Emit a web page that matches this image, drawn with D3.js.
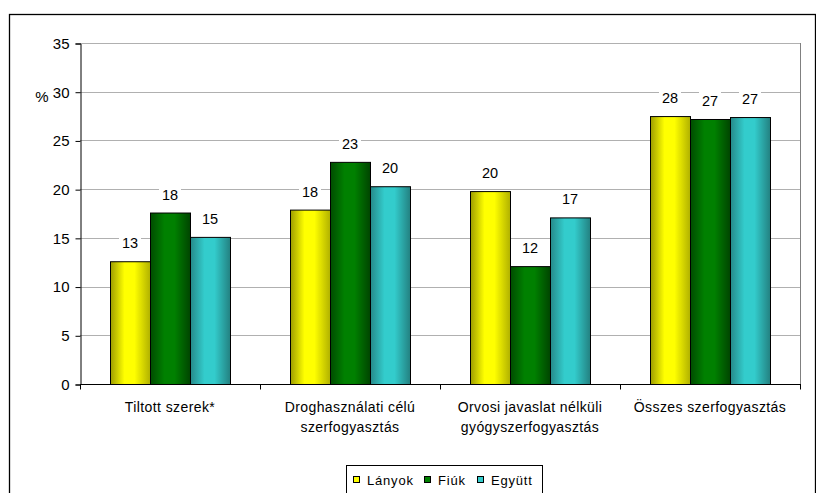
<!DOCTYPE html>
<html lang="hu">
<head>
<meta charset="UTF-8">
<title>Szerfogyasztás</title>
<script src="https://d3js.org/d3.v7.min.js"></script>
<style>
  body { margin: 0; background: #fff; }
  text { font-family: "Liberation Sans", Arial, sans-serif; fill: #000; }
</style>
</head>
<body>
<div id="chart"></div>
<script>
// data
var categories = [
  ["Tiltott szerek*"],
  ["Droghasználati célú", "szerfogyasztás"],
  ["Orvosi javaslat nélküli", "gyógyszerfogyasztás"],
  ["Összes szerfogyasztás"]
];
var series = ["Lányok", "Fiúk", "Együtt"];
var lanyok = [12.6, 17.9, 19.8, 27.5];
var fiuk   = [17.6, 22.8, 12.1, 27.2];
var egyutt = [15.1, 20.3, 17.1, 27.4];
var yTicks = [0, 5, 10, 15, 20, 25, 30, 35];

var values = [lanyok, fiuk, egyutt];
var colors = [
  ["#9e9e00", "#ffff00", "#ffff00", "#b0b000"],
  ["#004c00", "#008000", "#008000", "#004400"],
  ["#268a8a", "#33cccc", "#33cccc", "#238080"]
];

var W = 816, H = 493;
var plot = {left: 80, top: 43, right: 800, bottom: 384};

var svg = d3.select("#chart").append("svg")
  .attr("width", W).attr("height", H);

var defs = svg.append("defs");
colors.forEach(function(c, i) {
  var g = defs.append("linearGradient").attr("id", "grad" + i)
    .attr("x1", "0%").attr("x2", "100%").attr("y1", "0%").attr("y2", "0%");
  g.append("stop").attr("offset", "0%").attr("stop-color", c[0]);
  g.append("stop").attr("offset", "35%").attr("stop-color", c[1]);
  g.append("stop").attr("offset", "60%").attr("stop-color", c[2]);
  g.append("stop").attr("offset", "100%").attr("stop-color", c[3]);
});

// outer frame (cut off on the right and bottom)
svg.append("rect")
  .attr("x", 9.5).attr("y", 14.5).attr("width", 806).attr("height", 500)
  .attr("fill", "none").attr("stroke", "#000").attr("stroke-width", 1.3);

var y = d3.scaleLinear().domain([0, 35]).range([plot.bottom, plot.top]);
var x0 = d3.scaleBand().domain(d3.range(categories.length))
  .range([plot.left, plot.right]).paddingInner(0).paddingOuter(0);
var x1 = d3.scaleBand().domain(d3.range(series.length))
  .range([30, x0.bandwidth() - 30]);

// gridlines
svg.append("g").selectAll("line")
  .data(yTicks.filter(function(d) { return d > 0; }))
  .join("line")
  .attr("x1", plot.left).attr("x2", plot.right)
  .attr("y1", function(d) { return Math.round(y(d)) + 0.5; })
  .attr("y2", function(d) { return Math.round(y(d)) + 0.5; })
  .attr("stroke", "#b0b0b0").attr("stroke-width", 1);

// plot area right border
svg.append("line")
  .attr("x1", plot.right + 0.5).attr("x2", plot.right + 0.5)
  .attr("y1", plot.top).attr("y2", plot.bottom)
  .attr("stroke", "#808080");

// y axis
var yAxis = svg.append("g")
  .attr("transform", "translate(" + (plot.left + 0.5) + ",0.5)")
  .call(d3.axisLeft(y).tickValues(yTicks).tickSize(5).tickPadding(6));
yAxis.attr("font-size", null).attr("font-family", null);
yAxis.select(".domain").attr("stroke", "#000");
yAxis.selectAll("line").attr("stroke", "#000");
yAxis.selectAll("text").attr("font-size", 15);

svg.append("text").attr("x", 42).attr("y", 102)
  .attr("text-anchor", "middle").attr("font-size", 15).text("%");

// bars
var groups = svg.append("g").selectAll("g")
  .data(categories)
  .join("g")
  .attr("transform", function(d, i) { return "translate(" + x0(i) + ",0)"; });

groups.each(function(cat, ci) {
  var g = d3.select(this);
  series.forEach(function(s, si) {
    var v = values[si][ci];
    g.append("rect")
      .attr("x", x1(si) + 0.5)
      .attr("y", y(v) + 0.5)
      .attr("width", x1.bandwidth())
      .attr("height", plot.bottom - y(v))
      .attr("fill", "url(#grad" + si + ")")
      .attr("stroke", "#000").attr("stroke-width", 1);
  });
  series.forEach(function(s, si) {
    var v = values[si][ci];
    var cx = x1(si) + x1.bandwidth() / 2;
    var lbl = String(Math.round(v));
    g.append("rect")
      .attr("x", cx - 11).attr("y", y(v) - 27)
      .attr("width", 22).attr("height", 17)
      .attr("fill", "#fff");
    g.append("text")
      .attr("x", cx).attr("y", y(v) - 13)
      .attr("text-anchor", "middle").attr("font-size", 14.5)
      .text(lbl);
  });
});

// x axis
var xAxis = svg.append("g")
  .attr("transform", "translate(0," + (plot.bottom + 0.5) + ")");
xAxis.append("line")
  .attr("x1", plot.left).attr("x2", plot.right + 1)
  .attr("stroke", "#000");
xAxis.selectAll("line.tick")
  .data(d3.range(categories.length + 1))
  .join("line").attr("class", "tick")
  .attr("x1", function(i) { return (i < categories.length ? x0(i) : plot.right) + 0.5; })
  .attr("x2", function(i) { return (i < categories.length ? x0(i) : plot.right) + 0.5; })
  .attr("y1", 0).attr("y2", 5)
  .attr("stroke", "#000");

categories.forEach(function(lines, i) {
  var t = svg.append("text")
    .attr("x", x0(i) + x0.bandwidth() / 2)
    .attr("text-anchor", "middle").attr("font-size", 14)
    .attr("letter-spacing", 0.4);
  lines.forEach(function(l, k) {
    t.append("tspan")
      .attr("x", x0(i) + x0.bandwidth() / 2)
      .attr("y", 412 + k * 20)
      .text(l);
  });
});

// legend
var legend = svg.append("g").attr("transform", "translate(346,465)");
legend.append("rect")
  .attr("x", 0.5).attr("y", 0.5).attr("width", 196).attr("height", 40)
  .attr("fill", "#fff").attr("stroke", "#000");
var legendX = [7, 78, 131];
series.forEach(function(s, si) {
  var it = legend.append("g").attr("transform", "translate(" + legendX[si] + ",0)");
  it.append("rect")
    .attr("x", 0.5).attr("y", 11.5).attr("width", 6).attr("height", 6)
    .attr("fill", colors[si][1]).attr("stroke", "#000");
  it.append("text").attr("x", 14).attr("y", 19.5)
    .attr("font-size", 13).attr("letter-spacing", 0.8).text(s);
});
</script>
</body>
</html>
